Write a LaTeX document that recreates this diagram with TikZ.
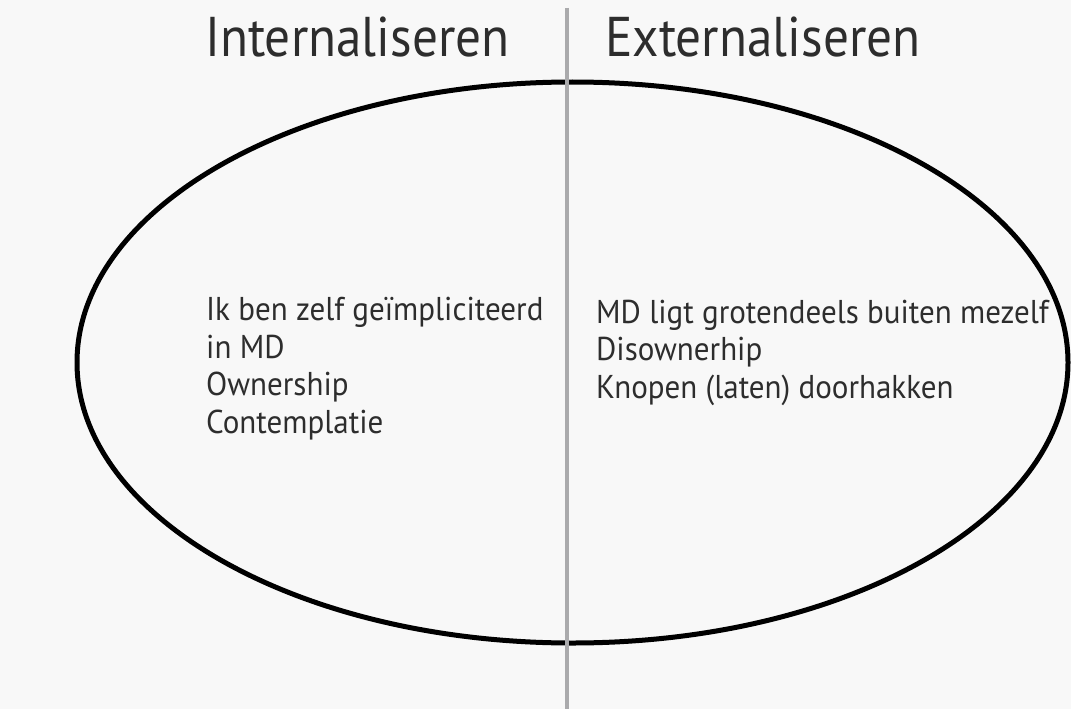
\documentclass[tikz,border=0pt]{standalone}
\usepackage{fontspec}
\setmainfont{PT Sans}
\usetikzlibrary{shapes.geometric}
\definecolor{bg}{RGB}{248,248,248}
\definecolor{divider}{RGB}{170,170,172}
\definecolor{txt}{RGB}{45,45,45}
\newcommand{\tsq}[1]{\scalebox{0.915}[1]{#1}}
\newcommand{\bsq}[1]{\scalebox{0.94}[1]{#1}}
\begin{document}
\begin{tikzpicture}[x=1pt,y=-1pt,
  title/.style={anchor=base west,inner sep=0pt,text=txt,font=\fontsize{56}{56}\selectfont},
  body/.style={anchor=base west,inner sep=0pt,text=txt,align=left,font=\fontsize{33}{37.5}\selectfont},
  ring/.style={draw=black,line width=5pt,ellipse,minimum width=991pt,minimum height=561pt,inner sep=0pt}]
\fill[bg] (0,0) rectangle (1071,709);
\useasboundingbox (0,0) rectangle (1071,709);
\node[ring] (oval) at (572.5,362.5) {};
\coordinate (ltop) at (566.5,8);
\coordinate (lbot) at (566.5,709);
\draw[divider,line width=4pt] (ltop) -- (lbot);
\node[title] (tin) at (205,57) {\tsq{Internaliseren}};
\node[title] (tex) at (605,57) {\tsq{Externaliseren}};
\node[body] (lin) at (206,433) {\bsq{Ik ben zelf geïmpliciteerd}\\ \bsq{in MD}\\ \bsq{Ownership}\\ \bsq{Contemplatie}};
\node[body] (rex) at (596,398) {\bsq{MD ligt grotendeels buiten mezelf}\\ \bsq{Disownerhip}\\ \bsq{Knopen (laten) doorhakken}};
\end{tikzpicture}
\end{document}
